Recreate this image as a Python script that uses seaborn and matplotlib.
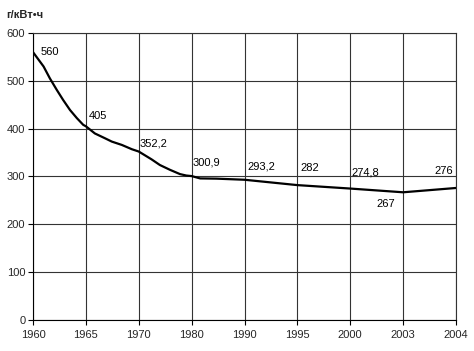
import numpy as np
import matplotlib
matplotlib.use("Agg")
import matplotlib.pyplot as plt
import seaborn as sns

# Category ticks (evenly spaced on the axis)
tick_years = [1960, 1965, 1970, 1980, 1990, 1995, 2000, 2003, 2004]
tick_labels = [str(y) for y in tick_years]

# Curve (years and g/kWh values)
curve_years = [1960, 1961.0, 1961.6, 1962.25, 1962.85, 1963.5, 1964.15, 1964.75,
               1965, 1965.85, 1966.8, 1967.45, 1968.4, 1969.35, 1970,
               1972.4, 1974.0, 1975.9, 1977.8, 1979.0, 1980, 1981.6, 1984.7,
               1990, 1995, 2000, 2003, 2004]
curve_values = [560, 530, 505, 481, 460, 439, 422, 408,
                405, 390, 380, 373, 366, 357, 352.2,
                336, 324, 314, 305, 302, 300.9, 296, 295.5,
                293.2, 282, 274.8, 267, 276]

# Annotated values
label_years = [1960, 1965, 1970, 1980, 1990, 1995, 2000, 2003, 2004]
label_values = [560, 405, 352.2, 300.9, 293.2, 282, 274.8, 267, 276]
label_texts = ["560", "405", "352,2", "300,9", "293,2", "282", "274,8", "267", "276"]

sns.set_style("white")
plt.rcParams['font.family'] = ['Liberation Sans', 'DejaVu Sans']

fig = plt.figure(figsize=(4.74, 3.51), dpi=100)
ax = fig.add_axes([33/474, 1-320/351, (456-33)/474, (320-33)/351])

pos = np.interp(curve_years, tick_years, np.arange(len(tick_years)))
sns.lineplot(x=pos, y=curve_values, color='black', linewidth=1.6, ax=ax)
ax.lines[-1].set_solid_joinstyle('round')

ax.set_xlim(0, len(tick_years) - 1)
ax.set_ylim(0, 600)
ax.set_xticks(np.arange(len(tick_years)))
ax.set_xticklabels(tick_labels)
ax.set_yticks(np.arange(0, 601, 100))
ax.grid(True, color='#333333', linewidth=0.8)
ax.set_axisbelow(True)
for s in ax.spines.values():
    s.set_visible(True)
    s.set_color('#333333')
    s.set_linewidth(0.8)
ax.spines['left'].set_color('black')
ax.spines['bottom'].set_color('black')
ax.tick_params(axis='both', which='both', direction='out', length=3.5, width=0.8,
               color='black', labelsize=8, pad=2, left=True, bottom=True)
ax.tick_params(axis='x', pad=4)

# label offsets in pixels (dx, dy, ha)
offsets = [(8, 0, 'left'), (3, 10, 'left'), (1, 8, 'left'), (1, 14, 'left'),
           (3, 13, 'left'), (3, 17, 'left'), (1, 16, 'left'), (-8, -12, 'right'),
           (-3, 17, 'right')]
lpos = np.interp(label_years, tick_years, np.arange(len(tick_years)))
for x, v, t, (dx, dy, ha) in zip(lpos, label_values, label_texts, offsets):
    ax.annotate(t, (x, v), xytext=(dx * 0.72, dy * 0.72), textcoords='offset points',
                ha=ha, va='center', fontsize=8, color='black')

fig.text(6/474, 1-15/351, "г/кВт•ч", fontsize=8, fontweight='bold',
         ha='left', va='center', family=['Liberation Sans', 'DejaVu Sans'])

fig.savefig("out.png", dpi=100)
